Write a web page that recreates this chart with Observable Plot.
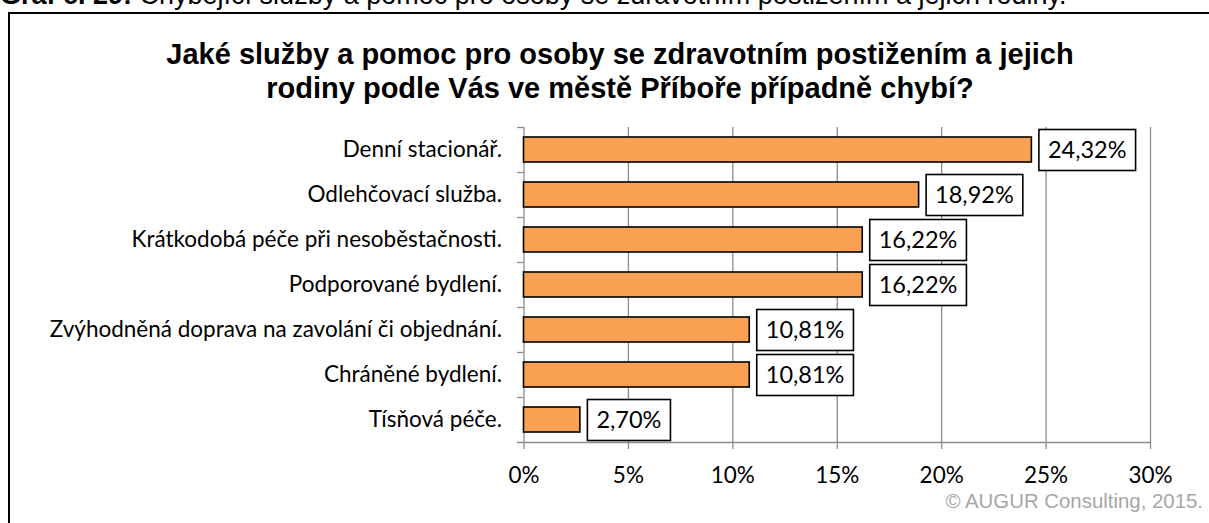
<!DOCTYPE html>
<html>
<head>
<meta charset="utf-8">
<script src="https://cdn.jsdelivr.net/npm/d3@7"></script>
<script src="https://cdn.jsdelivr.net/npm/@observablehq/plot@0.6"></script>
<style>
  html, body { margin: 0; padding: 0; background: #fff; overflow: hidden; }
  body { width: 1209px; height: 523px; position: relative; }
  #caption { position: absolute; left: 0; top: -18px; font: 27px/27px "Liberation Sans", Arial, sans-serif; white-space: nowrap; color: #000; }
  #frame { position: absolute; left: 8px; top: 12px; width: 1400px; height: 700px; border-left: 2px solid #000; border-top: 2px solid #000; }
  #title { position: absolute; left: 0; width: 1240px; top: 37px; text-align: center; font: bold 29px/34px "Liberation Sans", Arial, sans-serif; color: #000; }
  #chart { position: absolute; left: 0; top: 110px; }
  #credit { position: absolute; right: 6px; top: 489px; font: 20.4px/24px "Liberation Sans", Arial, sans-serif; color: #a6a6a6; white-space: nowrap; }
</style>
</head>
<body>
<div id="caption"><b>Graf č. 29:</b> Chybějící služby a pomoc pro osoby se zdravotním postižením a jejich rodiny.</div>
<div id="frame"></div>
<div id="title">Jaké služby a pomoc pro osoby se zdravotním postižením a jejich<br>rodiny podle Vás ve městě Příboře případně chybí?</div>
<div id="chart"></div>
<div id="credit">© AUGUR Consulting, 2015.</div>
<script>
const categories = [
  "Denní stacionář.",
  "Odlehčovací služba.",
  "Krátkodobá péče při nesoběstačnosti.",
  "Podporované bydlení.",
  "Zvýhodněná doprava na zavolání či objednání.",
  "Chráněné bydlení.",
  "Tísňová péče."
];
const values = [24.32, 18.92, 16.22, 16.22, 10.81, 10.81, 2.70];
const xTicks = [0, 5, 10, 15, 20, 25, 30];

const data = categories.map((c, i) => ({category: c, value: values[i]}));
const fmt = v => v.toFixed(2).replace(".", ",") + "%";
const gray = "#8c8c8c";

const plot = Plot.plot({
  width: 1209,
  height: 400,
  marginTop: 17,
  marginBottom: 68,
  marginLeft: 523.5,
  marginRight: 59,
  style: {fontFamily: "Lato, sans-serif", fontSize: "22.5px", color: "#000", background: "transparent"},
  x: {domain: [0, 30]},
  y: {domain: categories, paddingInner: 0.455, paddingOuter: 0.2275},
  marks: [
    Plot.ruleX(xTicks, {stroke: gray, strokeWidth: 1.3}),
    Plot.ruleY(categories, {y: d => d, dy: -22.5, x1: 0, x2: 0, insetLeft: -6.5, stroke: gray, strokeWidth: 1.3}),
    Plot.ruleY(categories.slice(-1), {y: d => d, dy: 22.5, x1: 0, x2: 30, insetLeft: -6.5, stroke: gray, strokeWidth: 1.3}),
    Plot.axisX({ticks: xTicks, tickSize: 7, tickPadding: 18, stroke: gray, strokeWidth: 1.3, tickFormat: d => d + "%", fontSize: 22.5, label: null}),
    Plot.axisY({tickSize: 0, tickPadding: 22, fontSize: 22.5, label: null}),
    Plot.barX(data, {x: "value", y: "category", fill: "#f9a052", stroke: "#000", strokeWidth: 1.6}),
    Plot.text(data, {x: "value", y: "category", text: d => fmt(d.value), textAnchor: "start", dx: 16, fontSize: 23.5, fill: "#000", className: "vlabel"})
  ]
});
document.getElementById("chart").appendChild(plot);

// white boxes behind value labels
d3.select(plot).selectAll("g.vlabel text").each(function () {
  const b = this.getBBox();
  const t = this.getAttribute("transform");
  const rect = document.createElementNS("http://www.w3.org/2000/svg", "rect");
  const m = /translate\(([-\d.]+),([-\d.]+)\)/.exec(t || "");
  const cy = m ? +m[2] : b.y + b.height / 2;
  const ox = m ? +m[1] : 0;
  rect.setAttribute("x", ox + b.x - 9);
  rect.setAttribute("width", b.width + 18);
  rect.setAttribute("y", cy - 20.5);
  rect.setAttribute("height", 41);
  rect.setAttribute("fill", "#fff");
  rect.setAttribute("stroke", "#000");
  rect.setAttribute("stroke-width", 1.6);
  this.parentNode.insertBefore(rect, this);
});
</script>
</body>
</html>
